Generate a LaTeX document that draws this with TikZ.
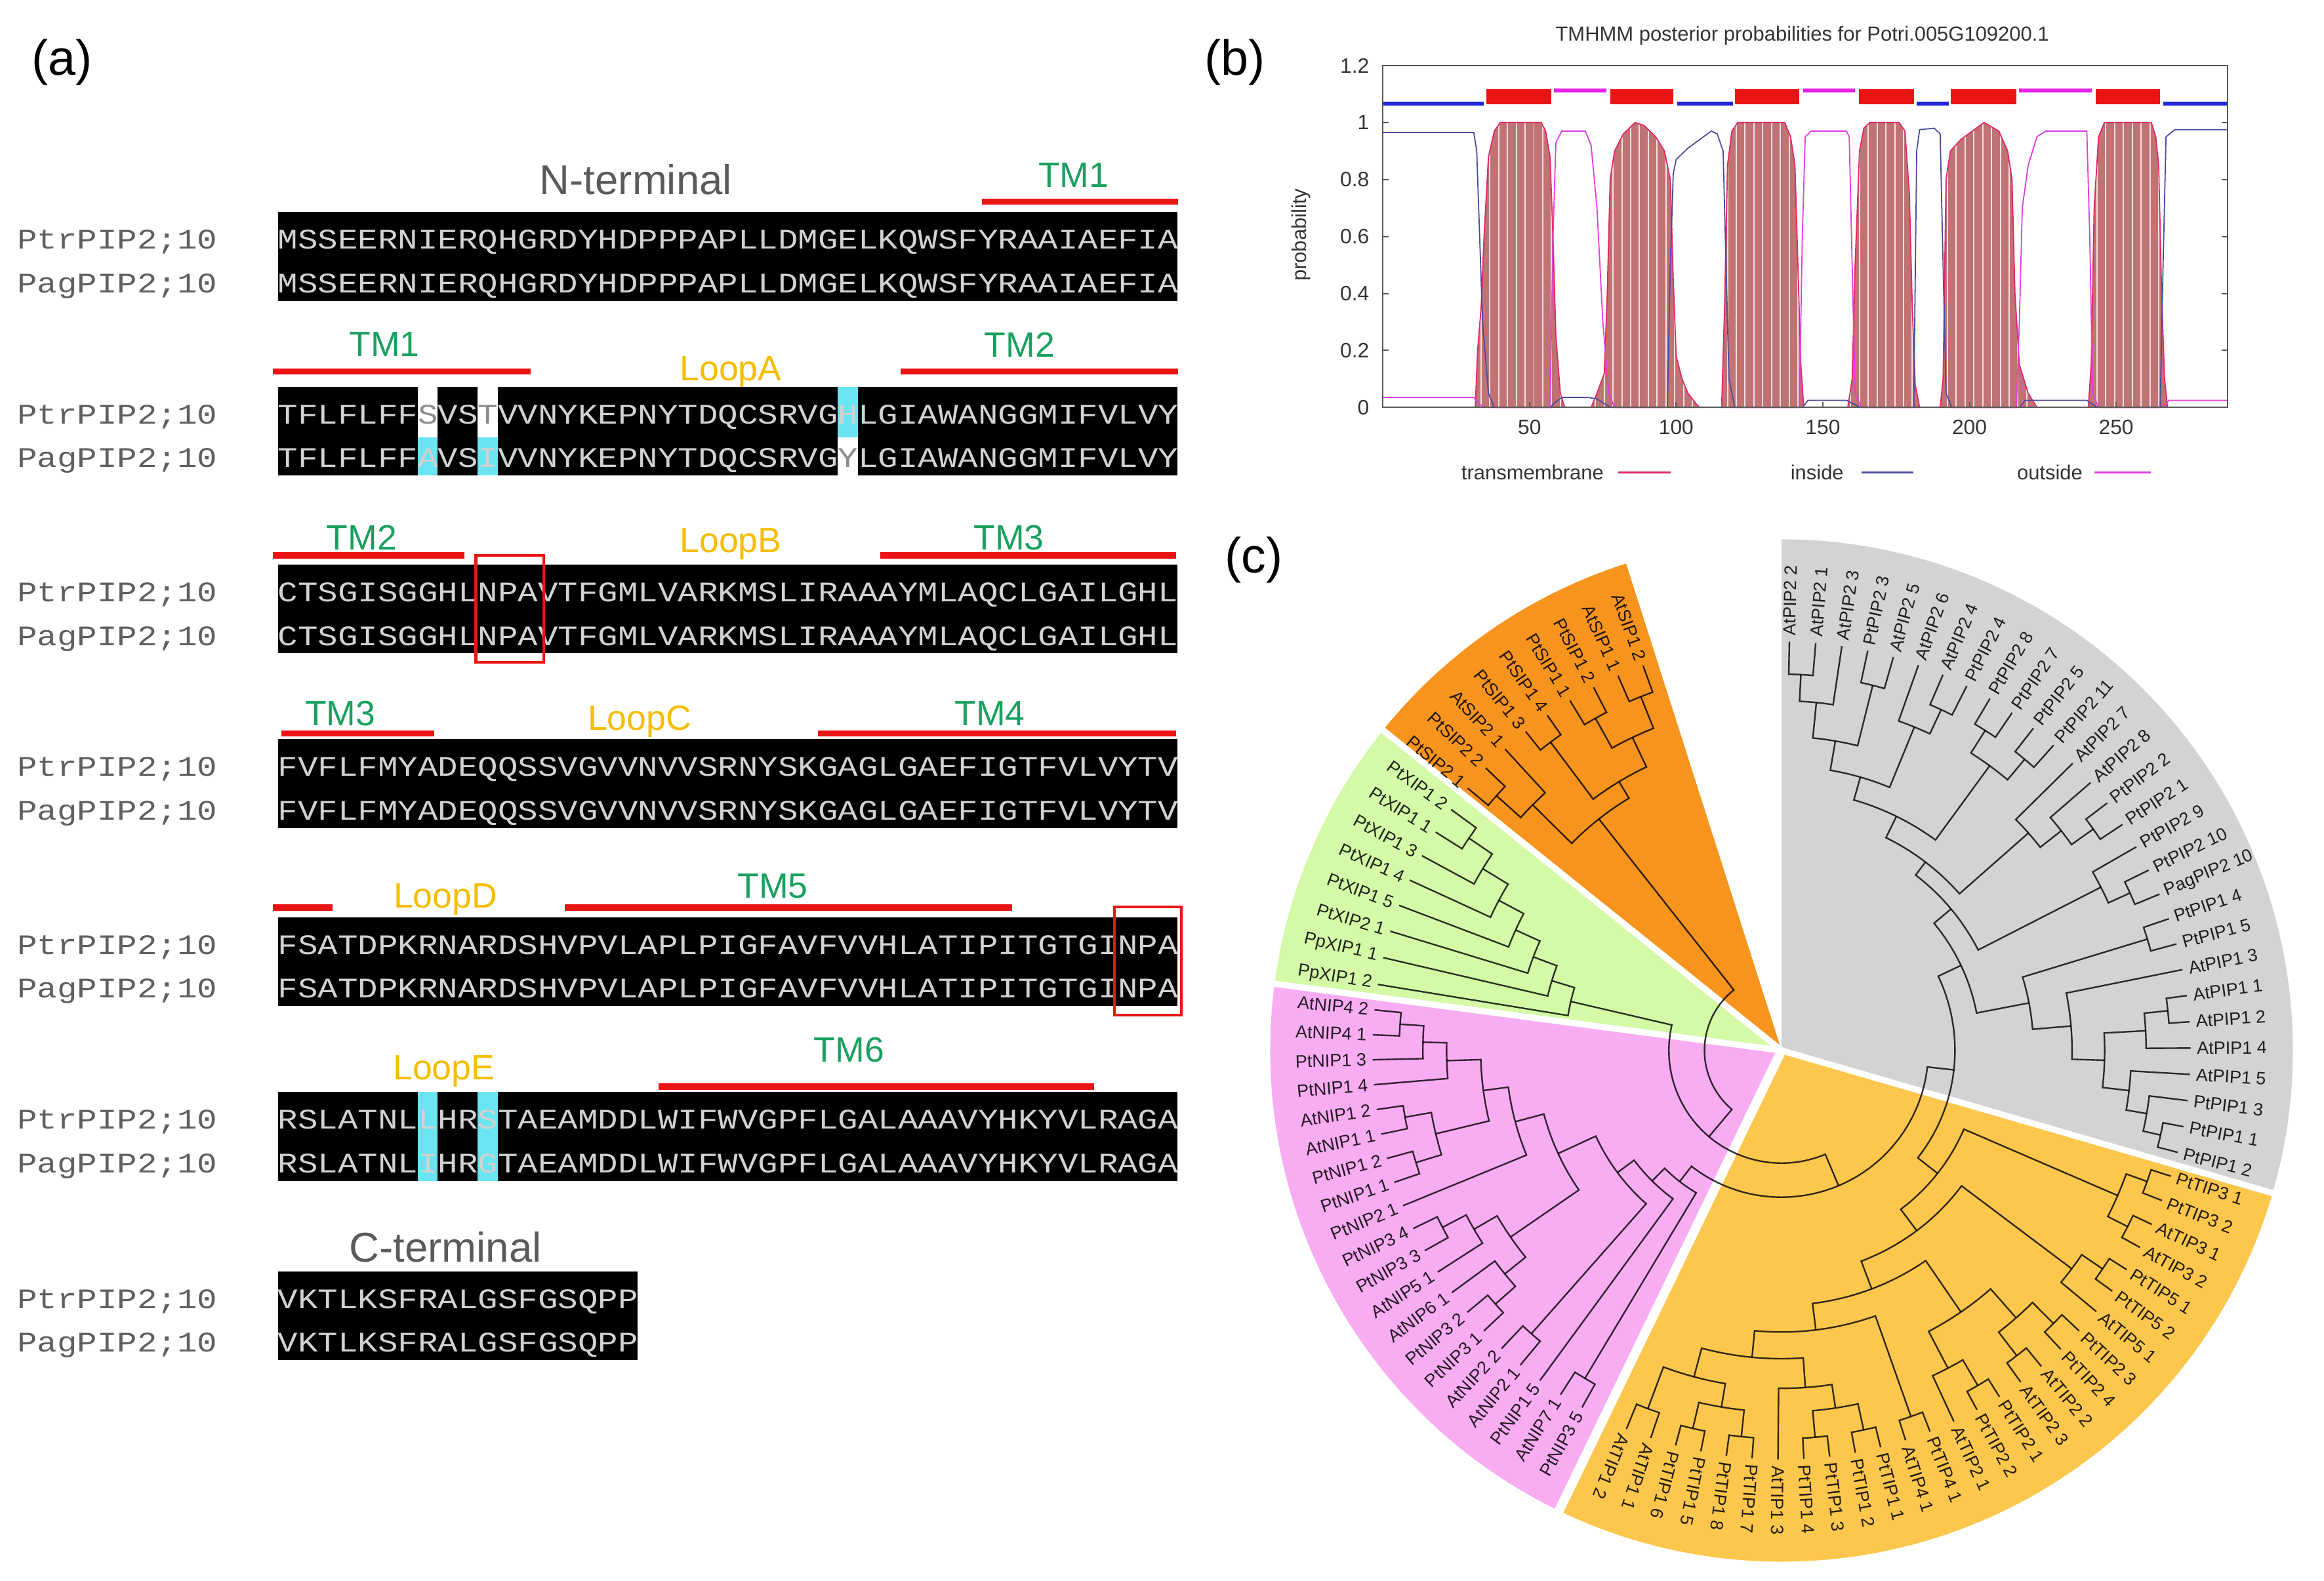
\documentclass[tikz,border=0pt]{standalone}
\usepackage{fontspec}
\setmainfont{Liberation Sans}
\newfontfamily\seqfont{Liberation Mono}

\definecolor{tmgreen}{RGB}{25,160,95}
\definecolor{loopgold}{RGB}{245,188,0}
\definecolor{termgray}{RGB}{90,90,90}
\definecolor{seqtext}{RGB}{210,210,210}
\definecolor{namegray}{RGB}{95,95,95}
\definecolor{barred}{RGB}{235,20,20}
\definecolor{cyanhl}{RGB}{105,228,240}
\definecolor{pipgray}{RGB}{211,211,211}
\definecolor{tipyellow}{RGB}{253,199,77}
\definecolor{nippink}{RGB}{248,172,242}
\definecolor{xipgreen}{RGB}{212,250,168}
\definecolor{siporange}{RGB}{247,148,30}
\definecolor{tmfillc}{RGB}{193,114,114}
\definecolor{tmedgec}{RGB}{225,40,105}
\definecolor{insidec}{RGB}{75,75,160}
\definecolor{outsidec}{RGB}{225,60,225}
\definecolor{barblue}{RGB}{30,40,215}
\definecolor{barmag}{RGB}{232,30,232}

\tikzset{
  panel/.style={inner sep=0pt, font=\fontsize{19}{22}\selectfont},
  seqrow/.style={anchor=base west, inner sep=0pt, outer sep=0pt, text=seqtext, font={\seqfont\fontsize{12.8}{14}\selectfont}},
  darkres/.style={seqrow, text=black!45},
  rowname/.style={anchor=base west, inner sep=0pt, text=namegray, font={\seqfont\fontsize{12.8}{14}\selectfont}},
  tmlabel/.style={inner sep=0pt, text=tmgreen, font=\fontsize{13.5}{15}\selectfont},
  looplabel/.style={inner sep=0pt, text=loopgold, font=\fontsize{13.5}{15}\selectfont},
  termlabel/.style={inner sep=0pt, text=termgray, font=\fontsize{16}{18}\selectfont},
  tmbar/.style={draw=barred, line width=2.4pt},
  npabox/.style={draw=barred, line width=1.1pt},
  plottext/.style={inner sep=0pt, text=black!80, font=\fontsize{7.8}{9}\selectfont},
  axisbox/.style={draw=black!65, line width=0.5pt},
  insidecurve/.style={draw=insidec, line width=0.45pt},
  outsidecurve/.style={draw=outsidec, line width=0.45pt},
  branch/.style={draw=black, draw opacity=0.8, line width=0.6pt},
  leaftext/.style={inner sep=0.5pt, text=black, text opacity=0.85, font=\fontsize{6.8}{8}\selectfont},
  gapline/.style={draw=white, line width=2.4pt},
}

\newcommand\squash[1]{\scalebox{1}[0.85]{#1}}
\newcommand\seqbox[2]{\fill[black] (187.5,#1+19) rectangle ({187.5+13.49*#2},#1-41);}
\newcommand\rownames[2]{%
  \node[rowname] (ptrname#1) at (11.3,#2-6) {\squash{PtrPIP2;10}};
  \node[rowname] (pagname#1) at (11.3,#2-35.5) {\squash{PagPIP2;10}};}
\newcommand\seqrows[4]{%
  \rownames{#1}{#2}
  \node[seqrow] (ptr#1) at (187.5,#2-6) {\squash{#3}};
  \node[seqrow] (pag#1) at (187.5,#2-35.5) {\squash{#4}};}

% leaves of the tree: id, angle, text
\newcommand\leafout[3]{%
  \expandafter\xdef\csname ta-#1\endcsname{#2}%
  \expandafter\xdef\csname tr-#1\endcsname{276}%
  \node[leaftext, rotate=#2, anchor=west] (#1) at (#2:279) {#3};}
\newcommand\leafin[3]{%
  \expandafter\xdef\csname ta-#1\endcsname{#2}%
  \expandafter\xdef\csname tr-#1\endcsname{276}%
  \node[leaftext, rotate=#2+180, anchor=east] (#1) at (#2:279) {#3};}
% inner node: id, child, child, radius
\newcommand\clade[4]{%
  \edef\brA{\csname ta-#2\endcsname}\edef\brB{\csname ta-#3\endcsname}%
  \edef\brRa{\csname tr-#2\endcsname}\edef\brRb{\csname tr-#3\endcsname}%
  \draw[branch] (\brA:\brRa) -- (\brA:#4) arc[start angle=\brA, end angle=\brB, radius=#4] -- (\brB:\brRb);%
  \pgfmathsetmacro\brM{(\brA+\brB)/2}%
  \expandafter\xdef\csname ta-#1\endcsname{\brM}%
  \expandafter\xdef\csname tr-#1\endcsname{#4}}

\begin{document}
\begin{tikzpicture}[x=0.2mm, y=0.2mm]
\useasboundingbox (0,0) rectangle (1568,1067);

% ---------- (a) alignment
\node[panel] (laba) at (42,1025) {(a)};

\node[termlabel] (nterm) at (429,946) {N-terminal};
\draw[tmbar] (662.6,930.8) -- (794.7,930.8);
\node[tmlabel] (tmA1) at (724.3,949) {TM1};
\seqbox{905}{45}
\seqrows{1}{905}{MSSEERNIERQHGRDYHDPPPAPLLDMGELKQWSFYRAAIAEFIA}{MSSEERNIERQHGRDYHDPPPAPLLDMGELKQWSFYRAAIAEFIA}

\draw[tmbar] (184,816.3) -- (358,816.3);
\draw[tmbar] (607.7,816.3) -- (794.7,816.3);
\node[tmlabel] (tmB1) at (259.4,834.6) {TM1};
\node[looplabel] (loopa) at (493,815.6) {LoopA};
\node[tmlabel] (tmB2) at (688,834.2) {TM2};
\seqbox{787}{45}
\fill[white] (281.9,772) rectangle (295.4,806);
\fill[cyanhl] (281.9,746) rectangle (295.4,772);
\fill[white] (322.4,772) rectangle (335.9,806);
\fill[cyanhl] (322.4,746) rectangle (335.9,772);
\fill[cyanhl] (565.2,772) rectangle (578.7,806);
\fill[white] (565.2,746) rectangle (578.7,772);
\rownames{2}{787}
\node[seqrow] (ptr2a) at (187.5,781) {\squash{TFLFLFF}};
\node[darkres] (ptr2b) at (ptr2a.base east) {\squash{S}};
\node[seqrow] (ptr2c) at (ptr2b.base east) {\squash{VS}};
\node[darkres] (ptr2d) at (ptr2c.base east) {\squash{T}};
\node[seqrow] (ptr2e) at (ptr2d.base east) {\squash{VVNYKEPNYTDQCSRVG}};
\node[seqrow] (ptr2f) at (ptr2e.base east) {\squash{H}};
\node[seqrow] (ptr2g) at (ptr2f.base east) {\squash{LGIAWANGGMIFVLVY}};
\node[seqrow] (pag2a) at (187.5,751.5) {\squash{TFLFLFF}};
\node[seqrow] (pag2b) at (pag2a.base east) {\squash{A}};
\node[seqrow] (pag2c) at (pag2b.base east) {\squash{VS}};
\node[seqrow] (pag2d) at (pag2c.base east) {\squash{I}};
\node[seqrow] (pag2e) at (pag2d.base east) {\squash{VVNYKEPNYTDQCSRVG}};
\node[darkres] (pag2f) at (pag2e.base east) {\squash{Y}};
\node[seqrow] (pag2g) at (pag2f.base east) {\squash{LGIAWANGGMIFVLVY}};

\draw[tmbar] (184,692.1) -- (313.4,692.1);
\draw[tmbar] (594,692.1) -- (793.6,692.1);
\node[tmlabel] (tmC2) at (244,704) {TM2};
\node[looplabel] (loopb) at (493,700) {LoopB};
\node[tmlabel] (tmC3) at (680.6,704) {TM3};
\seqbox{667}{45}
\seqrows{3}{667}{CTSGISGGHLNPAVTFGMLVARKMSLIRAAAYMLAQCLGAILGHL}{CTSGISGGHLNPAVTFGMLVARKMSLIRAAAYMLAQCLGAILGHL}
\draw[npabox] (321,692) rectangle (367,620);

\draw[tmbar] (190,572) -- (292.8,572);
\draw[tmbar] (552,572) -- (793.6,572);
\node[tmlabel] (tmD3) at (229.6,585.4) {TM3};
\node[looplabel] (loopc) at (431.5,580) {LoopC};
\node[tmlabel] (tmD4) at (667.8,585.4) {TM4};
\seqbox{549}{45}
\seqrows{4}{549}{FVFLFMYADEQQSSVGVVNVVSRNYSKGAGLGAEFIGTFVLVYTV}{FVFLFMYADEQQSSVGVVNVVSRNYSKGAGLGAEFIGTFVLVYTV}

\draw[tmbar] (184,454.4) -- (224.5,454.4);
\draw[tmbar] (381,454.4) -- (683,454.4);
\node[looplabel] (loopd) at (300.5,460) {LoopD};
\node[tmlabel] (tmE5) at (521.4,469) {TM5};
\seqbox{429}{45}
\seqrows{5}{429}{FSATDPKRNARDSHVPVLAPLPIGFAVFVVHLATIPITGTGINPA}{FSATDPKRNARDSHVPVLAPLPIGFAVFVVHLATIPITGTGINPA}
\draw[npabox] (752,455) rectangle (797,382);

\draw[tmbar] (444.4,333.6) -- (738,333.6);
\node[looplabel] (loope) at (299.5,344) {LoopE};
\node[tmlabel] (tmF6) at (572.8,358.5) {TM6};
\seqbox{311}{45}
\fill[cyanhl] (281.9,270) rectangle (295.4,330);
\fill[cyanhl] (322.4,270) rectangle (335.9,330);
\seqrows{6}{311}{RSLATNLLHRSTAEAMDDLWIFWVGPFLGALAAAVYHKYVLRAGA}{RSLATNLIHRGTAEAMDDLWIFWVGPFLGALAAAVYHKYVLRAGA}

\node[termlabel] (cterm) at (300.5,225.2) {C-terminal};
\seqbox{190}{18}
\seqrows{7}{190}{VKTLKSFRALGSFGSQPP}{VKTLKSFRALGSFGSQPP}

% ---------- (b) TMHMM plot
\node[panel] (labb) at (833,1025) {(b)};
\node[plottext] (title) at (1216,1043) {TMHMM posterior probabilities for Potri.005G109200.1};
\node[plottext, rotate=90] (ylab) at (878,908.4) {probability};

\begin{scope}[shift={(933,792)}, xscale=1.979, yscale=192.3]
  \def\tmpaths{(31.5,0) -- (32.3,0.2) -- (33.5,0.35) -- (34.5,0.6) -- (36,0.88) -- (38,0.97) -- (40,1) -- (54,1) -- (55.5,0.97) -- (57,0.88) -- (58,0.6) -- (59,0.25) -- (60.5,0.05) -- (62,0) -- cycle
    (71,0) -- (73,0.05) -- (75.5,0.12) -- (76.5,0.4) -- (77.5,0.8) -- (79,0.9) -- (82,0.96) -- (86,1) -- (89,0.99) -- (93,0.95) -- (96,0.9) -- (98,0.8) -- (99,0.45) -- (100,0.18) -- (102,0.1) -- (104,0.05) -- (107,0.01) -- (108,0) -- cycle
    (115.5,0) -- (116.5,0.35) -- (117.5,0.85) -- (119,0.97) -- (121,1) -- (137,1) -- (139,0.95) -- (140.5,0.85) -- (141.5,0.5) -- (142.5,0.15) -- (143.5,0) -- cycle
    (158.5,0) -- (160,0.1) -- (161,0.5) -- (162.5,0.9) -- (164,0.98) -- (166,1) -- (176,1) -- (178,0.97) -- (179.5,0.75) -- (180.5,0.35) -- (181.5,0.08) -- (183,0) -- cycle
    (190,0) -- (191,0.1) -- (192,0.8) -- (193.5,0.9) -- (197,0.94) -- (201,0.97) -- (205,1) -- (210,0.97) -- (213,0.9) -- (214.5,0.8) -- (215.5,0.4) -- (217,0.15) -- (220,0.05) -- (223,0) -- cycle
    (240.5,0) -- (241.5,0.15) -- (242.5,0.7) -- (244,0.95) -- (246,1) -- (262,1) -- (263.5,0.95) -- (264.5,0.85) -- (265.5,0.4) -- (266.5,0.1) -- (267.5,0) -- cycle}
  \fill[tmfillc] \tmpaths;
  \begin{scope}
    \clip \tmpaths;
    \foreach \sx in {0.5,3.5,...,287} \draw[white, line width=0.5pt, opacity=0.8] (\sx,0) -- (\sx,1.05);
  \end{scope}
  \draw[tmedgec, line width=0.45pt] \tmpaths;
  \draw[insidecurve] (0,0.965) -- (31,0.965) -- (32,0.9) -- (33,0.6) -- (34,0.3) -- (36,0.05) -- (38,0) -- (57,0) -- (59,0.02) -- (61,0.035) -- (70,0.035) -- (73,0.03) -- (76,0.01) -- (78,0) -- (97,0) -- (98,0.5) -- (99,0.82) -- (100,0.87) -- (104,0.91) -- (108,0.94) -- (112,0.97) -- (114,0.96) -- (116,0.9) -- (117,0.5) -- (118,0.1) -- (120,0) -- (143,0) -- (145,0.025) -- (158,0.025) -- (161,0.01) -- (163,0) -- (181,0) -- (182,0.9) -- (183,0.975) -- (188,0.98) -- (190,0.96) -- (191,0.5) -- (192,0.05) -- (194,0) -- (217,0) -- (219,0.025) -- (240,0.025) -- (242,0.01) -- (244,0) -- (265,0) -- (266,0.5) -- (267,0.95) -- (270,0.975) -- (288,0.975);
  \draw[outsidecurve] (0,0.035) -- (31,0.035) -- (33,0.01) -- (35,0) -- (57,0) -- (58,0.6) -- (59,0.93) -- (61,0.97) -- (69,0.97) -- (71,0.92) -- (73,0.7) -- (75,0.3) -- (77,0.05) -- (79,0) -- (142,0) -- (143,0.6) -- (144,0.95) -- (146,0.97) -- (158,0.97) -- (159,0.95) -- (160,0.5) -- (161,0.05) -- (163,0) -- (216,0) -- (217,0.3) -- (218,0.7) -- (220,0.85) -- (223,0.95) -- (226,0.97) -- (240,0.97) -- (241,0.6) -- (242,0.05) -- (244,0) -- (266,0) -- (268,0.025) -- (288,0.025);
  % topology bars
  \draw[barblue, line width=1.5pt] (0,1.067) -- (34.5,1.067) (100.4,1.067) -- (119.3,1.067) (182,1.067) -- (193,1.067) (266,1.067) -- (288,1.067);
  \draw[barmag, line width=1.5pt] (58.4,1.113) -- (76.3,1.113) (143.3,1.113) -- (161,1.113) (216.8,1.113) -- (241.6,1.113);
  \foreach \ba/\bb in {35.3/57.4, 77.5/99.1, 120/142, 162.3/181.2, 193.7/215.9, 243/265}
    \fill[barred] (\ba,1.063) rectangle (\bb,1.116);
  % frame and ticks
  \draw[axisbox] (0,0) rectangle (288,1.2);
  \foreach \yv in {0.2,0.4,...,1.0} {
    \draw[axisbox] (0,\yv) -- (2,\yv);
    \draw[axisbox] (288,\yv) -- (286,\yv);}
  \foreach \xv in {50,100,...,250} \draw[axisbox] (\xv,0) -- (\xv,0.02);
  \foreach \yv [count=\k] in {0,0.2,0.4,0.6,0.8,1,1.2}
    \node[plottext, anchor=east, font=\fontsize{8}{9}\selectfont] (ytick\k) at (-4.5,\yv) {\yv};
  \foreach \xv [count=\k] in {50,100,150,200,250}
    \node[plottext, font=\fontsize{8}{9}\selectfont] (xtick\k) at (\xv,-0.07) {\xv};
\end{scope}

\node[plottext] (keytm) at (1034,748) {transmembrane};
\draw[tmedgec, line width=0.8pt] (1092,748) -- (1127,748);
\node[plottext] (keyin) at (1226,748) {inside};
\draw[insidec, line width=0.8pt] (1256,748) -- (1291,748);
\node[plottext] (keyout) at (1383,748) {outside};
\draw[outsidec, line width=0.8pt] (1413,748) -- (1451,748);

% ---------- (c) circular tree
\node[panel] (labc) at (846,689) {(c)};

\begin{scope}[shift={(1202,358)}]
  \fill[pipgray] (0,0) -- (-16.2:345) arc[start angle=-16.2, end angle=90, radius=345] -- cycle;
  \fill[tipyellow] (0,0) -- (-115.8:345) arc[start angle=-115.8, end angle=-16.2, radius=345] -- cycle;
  \fill[nippink] (0,0) -- (-187.5:345) arc[start angle=-187.5, end angle=-115.8, radius=345] -- cycle;
  \fill[xipgreen] (0,0) -- (-218.8:345) arc[start angle=-218.8, end angle=-187.5, radius=345] -- cycle;
  \fill[siporange] (0,0) -- (-252.3:345) arc[start angle=-252.3, end angle=-218.8, radius=345] -- cycle;
  \foreach \g in {-16.2,-187.5,-218.8} \draw[gapline] (0,0) -- (\g:352);
  \draw[gapline, line width=3.6pt] (0,0) -- (-115.8:352);

  % leaves
  \foreach \leafname [count=\i] in {AtPIP2 2, AtPIP2 1, AtPIP2 3, PtPIP2 3, AtPIP2 5, AtPIP2 6, AtPIP2 4, PtPIP2 4, PtPIP2 8, PtPIP2 7, PtPIP2 5, PtPIP2 11, AtPIP2 7, AtPIP2 8, PtPIP2 2, PtPIP2 1, PtPIP2 9, PtPIP2 10, PagPIP2 10, PtPIP1 4, PtPIP1 5, AtPIP1 3, AtPIP1 1, AtPIP1 2, AtPIP1 4, AtPIP1 5, PtPIP1 3, PtPIP1 1, PtPIP1 2}
    {\pgfmathsetmacro\leafang{88.9-3.69*(\i-1)}\leafout{p\i}{\leafang}{\leafname}}
  \foreach \leafname [count=\i] in {PtTIP3 1, PtTIP3 2, AtTIP3 1, AtTIP3 2, PtTIP5 1, PtTIP5 2, AtTIP5 1, PtTIP2 3, PtTIP2 4, AtTIP2 2, AtTIP2 3, PtTIP2 1, PtTIP2 2, AtTIP2 1, PtTIP4 1, AtTIP4 1, PtTIP1 1, PtTIP1 2, PtTIP1 3, PtTIP1 4, AtTIP1 3, PtTIP1 7, PtTIP1 8, PtTIP1 5, PtTIP1 6, AtTIP1 1, AtTIP1 2}
    {\pgfmathsetmacro\leafang{-17.9-3.63*(\i-1)}\leafout{t\i}{\leafang}{\leafname}}
  \foreach \leafname [count=\i] in {PtNIP3 5, AtNIP7 1, PtNIP1 5, AtNIP2 1, AtNIP2 2, PtNIP3 1, PtNIP3 2, AtNIP6 1, AtNIP5 1, PtNIP3 3, PtNIP3 4, PtNIP2 1, PtNIP1 1, PtNIP1 2, AtNIP1 1, AtNIP1 2, PtNIP1 4, PtNIP1 3, AtNIP4 1, AtNIP4 2}
    {\pgfmathsetmacro\leafang{-119.2-3.5*(\i-1)}\leafin{n\i}{\leafang}{\leafname}}
  \foreach \leafname [count=\i] in {PpXIP1 2, PpXIP1 1, PtXIP2 1, PtXIP1 5, PtXIP1 4, PtXIP1 3, PtXIP1 1, PtXIP1 2}
    {\pgfmathsetmacro\leafang{-189.3-3.83*(\i-1)}\leafin{x\i}{\leafang}{\leafname}}
  \foreach \leafname [count=\i] in {PtSIP2 1, PtSIP2 2, AtSIP2 1, PtSIP1 3, PtSIP1 4, PtSIP1 1, PtSIP1 2, AtSIP1 1, AtSIP1 2}
    {\pgfmathsetmacro\leafang{-219.9-3.79*(\i-1)}\leafin{s\i}{\leafang}{\leafname}}

  % PIP
  \foreach \cid/\cu/\cw/\crad in {a12/p1/p2/254, a123/a12/p3/236, a45/p4/p5/254, a15/a123/a45/212,
      a78/p7/p8/254, a678/p6/a78/236, a18/a15/a678/192, a910/p9/p10/256, a1112/p11/p12/256,
      a912/a910/a1112/238, a112/a18/a912/176, a1516/p15/p16/258, a1416/p14/a1516/240,
      a1316/p13/a1416/222, a116/a112/a1316/160, a1819/p18/p19/258, a1719/p17/a1819/242,
      pip2/a116/a1719/149, b2021/p20/p21/258, b2324/p23/p24/262, b2325/b2324/p25/246,
      b2829/p28/p29/262, b2729/p27/b2829/250, b2629/p26/b2729/236, b2329/b2325/b2629/218,
      b2229/p22/b2329/196, pip1/b2021/b2229/170, pip/pip2/pip1/134}
    {\clade{\cid}{\cu}{\cw}{\crad}}
  % TIP
  \foreach \cid/\cu/\cw/\crad in {c12/t1/t2/262, c34/t3/t4/262, tip3/c12/c34/247, c56/t5/t6/262,
      tip5/c56/t7/245, c89/t8/t9/260, c1011/t10/t11/260, c811/c89/c1011/240, c1213/t12/t13/262,
      c1214/c1213/t14/242, tip2/c811/c1214/214, c1516/t15/t16/262, d1718/t17/t18/262,
      d1920/t19/t20/262, d1720/d1718/d1920/244, d1721/d1720/t21/228, d2223/t22/t23/262,
      d2425/t24/t25/262, d2225/d2223/d2425/244, d2627/t26/t27/258, d2227/d2225/d2627/228,
      tip1/d1721/d2227/208, tip14/c1516/tip1/190, tipy/tip2/tip14/172, tipx/tip5/tipy/152,
      tip/tip3/tipx/134}
    {\clade{\cid}{\cu}{\cw}{\crad}}
  % NIP
  \foreach \cid/\cu/\cw/\crad in {e12/n1/n2/258, e45/n4/n5/255, e67/n6/n7/258, e68/e67/n8/240,
      e1011/n10/n11/258, e911/n9/e1011/240, e611/e68/e911/222, e1920/n19/n20/258,
      e1820/n18/e1920/242, e1720/n17/e1820/226, e1314/n13/n14/258, e1516/n15/n16/258,
      e1316/e1314/e1516/240, e1320/e1316/e1720/203, e1220/n12/e1320/186, e620/e611/e1220/166,
      e420/e45/e620/138, e320/n3/e420/124, nip/e12/e320/112}
    {\clade{\cid}{\cu}{\cw}{\crad}}
  % XIP
  \foreach \cid/\cu/\cw/\crad in {f78/x7/x8/255, f68/x6/f78/236, f58/x5/f68/216, f48/x4/f58/197,
      f38/x3/f48/179, f28/x2/f38/162, xip/x1/f28/146}
    {\clade{\cid}{\cu}{\cw}{\crad}}
  % SIP
  \foreach \cid/\cu/\cw/\crad in {s12/s1/s2/258, s123/s12/s3/236, s45/s4/s5/260, s67/s6/s7/257,
      s89/s8/s9/257, s69/s67/s89/234, sip1/s45/s69/212, sip/s123/sip1/199}
    {\clade{\cid}{\cu}{\cw}{\crad}}
  % deep nodes
  \foreach \cid/\cu/\cw/\crad in {pt/pip/tip/117, q/nip/pt/99, xq/xip/q/76, root/sip/xq/52}
    {\clade{\cid}{\cu}{\cw}{\crad}}
\end{scope}
\end{tikzpicture}
\end{document}
